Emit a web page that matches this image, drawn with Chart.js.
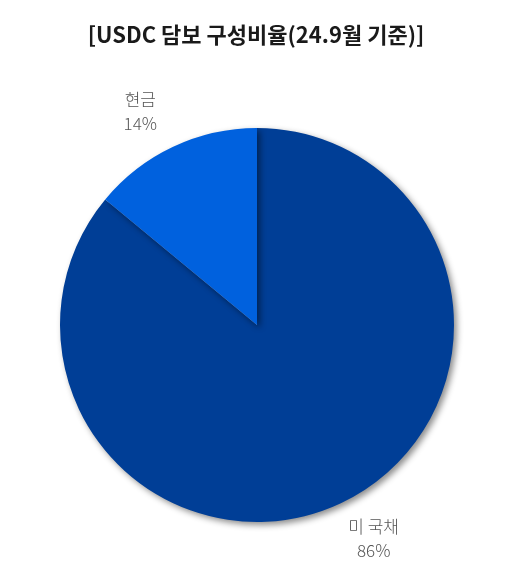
<!DOCTYPE html>
<html>
<head>
<meta charset="utf-8">
<script src="https://cdn.jsdelivr.net/npm/chart.js@4"></script>
<style>
  html, body { margin: 0; padding: 0; background: #fff; }
  canvas { display: block; }
</style>
</head>
<body>
<canvas id="pie" width="511" height="577"></canvas>
<script>
// données du graphique
var labels = ['미 국채', '현금'];
var values = [86, 14];
var colors = ['#003e96', '#0061de'];
var title = '[USDC 담보 구성비율(24.9월 기준)]';

// ombre sous le camembert
var shadowPlugin = {
    id: 'pieShadow',
    beforeDatasetsDraw: function (chart) {
        var ctx = chart.ctx;
        ctx.save();
        ctx.shadowColor = 'rgba(0,0,0,0.45)';
        ctx.shadowBlur = 6;
        ctx.shadowOffsetX = 3;
        ctx.shadowOffsetY = 3;
    },
    afterDatasetsDraw: function (chart) {
        chart.ctx.restore();
    }
};

// titre + étiquettes à l'extérieur des parts
var labelPlugin = {
    id: 'outLabels',
    afterDraw: function (chart) {
        var ctx = chart.ctx;
        ctx.save();
        ctx.fillStyle = '#1a1a1a';
        ctx.font = 'bold 22px "Noto Sans CJK KR", "Noto Sans", sans-serif';
        ctx.textAlign = 'center';
        ctx.textBaseline = 'middle';
        ctx.fillText(title, 256, 35);

        var meta = chart.getDatasetMeta(0);
        ctx.font = '300 17px "Noto Sans CJK KR", "Noto Sans", sans-serif';
        ctx.fillStyle = '#555555';
        meta.data.forEach(function (arc, i) {
            var p = arc.getProps(['x', 'y', 'startAngle', 'endAngle', 'outerRadius'], true);
            var mid = (p.startAngle + p.endAngle) / 2;
            // ellipse un peu plus large que haute, comme dans l'original
            var x = p.x + Math.cos(mid) * (p.outerRadius + 77);
            var y = p.y + Math.sin(mid) * (p.outerRadius + 39);
            ctx.fillText(labels[i], x, y - 12);
            ctx.fillText(values[i] + '%', x, y + 12);
        });
        ctx.restore();
    }
};

var ctx = document.getElementById('pie').getContext('2d');
new Chart(ctx, {
    type: 'pie',
    data: {
        labels: labels,
        datasets: [{
            data: values,
            backgroundColor: colors,
            borderWidth: 0
        }]
    },
    options: {
        responsive: false,
        animation: false,
        devicePixelRatio: 1,
        layout: { padding: { top: 128, bottom: 55, left: 60, right: 57 } },
        plugins: {
            legend: { display: false },
            tooltip: { enabled: false }
        }
    },
    plugins: [shadowPlugin, labelPlugin]
});
</script>
</body>
</html>
